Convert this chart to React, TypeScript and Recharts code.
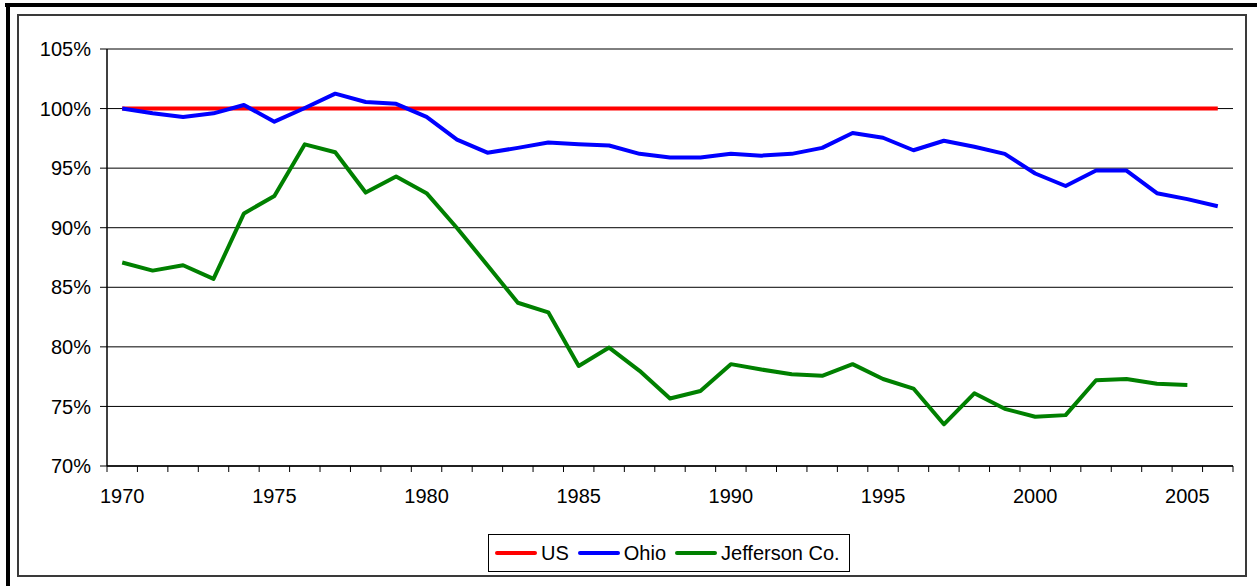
import React from "react";
import { LineChart, Line, XAxis, YAxis, CartesianGrid, Legend } from "recharts";

const years = [
  1970, 1971, 1972, 1973, 1974, 1975, 1976, 1977, 1978, 1979,
  1980, 1981, 1982, 1983, 1984, 1985, 1986, 1987, 1988, 1989,
  1990, 1991, 1992, 1993, 1994, 1995, 1996, 1997, 1998, 1999,
  2000, 2001, 2002, 2003, 2004, 2005, 2006,
];

const usValues = years.map(() => 100);

const ohioValues = [
  100.0, 99.6, 99.3, 99.6, 100.3, 98.9, 100.05, 101.25, 100.55, 100.4,
  99.3, 97.4, 96.3, 96.7, 97.15, 97.0, 96.9, 96.2, 95.9, 95.9,
  96.2, 96.05, 96.2, 96.7, 97.95, 97.55, 96.5, 97.3, 96.8, 96.2,
  94.55, 93.5, 94.8, 94.8, 92.9, 92.4, 91.8,
];

const jeffersonValues: (number | null)[] = [
  87.08, 86.4, 86.85, 85.7, 91.2, 92.67, 97.0, 96.33, 92.95, 94.3,
  92.9, 89.98, 86.85, 83.7, 82.9, 78.4, 79.94, 77.99, 75.67, 76.3,
  78.55, 78.1, 77.7, 77.57, 78.55, 77.3, 76.5, 73.5, 76.1, 74.8,
  74.13, 74.27, 77.2, 77.3, 76.9, 76.8, null,
];

const yTicks = [70, 75, 80, 85, 90, 95, 100, 105];
const xLabelTicks = [1970, 1975, 1980, 1985, 1990, 1995, 2000, 2005];

const seriesNames = ["US", "Ohio", "Jefferson Co."];
const seriesColors = ["#ff0000", "#0000ff", "#008000"];

const data = years.map((year, i) => ({
  year,
  us: usValues[i],
  ohio: ohioValues[i],
  jefferson: jeffersonValues[i],
}));

const boundaryTicks = [...years.map((y) => y - 0.5), years[years.length - 1] + 0.5];
const xDomain = [years[0] - 0.5, years[years.length - 1] + 0.5];

const FONT = "'Liberation Sans', Arial, sans-serif";

const LegendBox = () => (
  <div
    style={{
      border: "1px solid #000",
      boxSizing: "border-box",
      width: 362,
      height: 38,
      display: "flex",
      alignItems: "center",
      paddingLeft: 6,
      background: "#fff",
      fontFamily: FONT,
      fontSize: 20,
      color: "#000",
    }}
  >
    {seriesNames.map((name, i) => (
      <div key={name} style={{ display: "flex", alignItems: "center", marginRight: 9 }}>
        <div
          style={{
            width: 42,
            height: 4,
            borderRadius: 2,
            background: seriesColors[i],
            marginRight: 4,
          }}
        />
        <span>{name}</span>
      </div>
    ))}
  </div>
);

const NoLabel = () => null;

export default function App() {
  return (
    <div
      style={{
        position: "absolute",
        left: 0,
        top: 0,
        width: 1257,
        height: 586,
        background: "#fff",
        overflow: "hidden",
      }}
    >
      <div style={{ position: "absolute", left: 5, top: 3, width: 1252, height: 4, background: "#000" }} />
      <div style={{ position: "absolute", left: 6, top: 3, width: 4, height: 583, background: "#000" }} />
      <div
        style={{
          position: "absolute",
          left: 17,
          top: 14,
          width: 1230,
          height: 563,
          border: "2px solid #3a3a3a",
          boxSizing: "border-box",
        }}
      />
      <div style={{ position: "absolute", left: 0, top: 0 }}>
        <LineChart
          width={1257}
          height={586}
          data={data}
          margin={{ top: 49, right: 24, bottom: 89, left: 47 }}
          style={{ fontFamily: FONT }}
        >
          <CartesianGrid vertical={false} stroke="#000" strokeWidth={1} yAxisId="left" />
          <XAxis
            xAxisId="b"
            dataKey="year"
            type="number"
            domain={xDomain}
            ticks={boundaryTicks}
            tick={<NoLabel />}
            tickSize={6}
            tickLine={{ stroke: "#000" }}
            axisLine={{ stroke: "#000", strokeWidth: 1.5 }}
            height={1}
            interval={0}
            allowDataOverflow
          />
          <XAxis
            xAxisId="lbl"
            dataKey="year"
            type="number"
            domain={xDomain}
            ticks={xLabelTicks}
            tickLine={false}
            axisLine={false}
            tickSize={6}
            tickMargin={16}
            interval={0}
            tick={{ fill: "#000", fontSize: 20, fontFamily: FONT }}
            height={30}
            allowDataOverflow
          />
          <YAxis
            yAxisId="left"
            domain={[70, 105]}
            ticks={yTicks}
            tickFormatter={(v: number) => `${v}%`}
            tickSize={7}
            tickMargin={9}
            tickLine={{ stroke: "#000" }}
            axisLine={{ stroke: "#000", strokeWidth: 1.5 }}
            tick={{ fill: "#000", fontSize: 20, fontFamily: FONT }}
            width={60}
            interval={0}
            allowDataOverflow
          />
          <YAxis
            yAxisId="right"
            orientation="right"
            domain={[70, 105]}
            ticks={yTicks}
            tick={false}
            tickLine={false}
            axisLine={{ stroke: "#000", strokeWidth: 2 }}
            width={0}
            allowDataOverflow
          />
          <Legend
            layout="vertical"
            align="center"
            verticalAlign="middle"
            wrapperStyle={{ left: 488, top: 534, width: 362, height: 38 }}
            content={() => <LegendBox />}
          />
          <Line
            xAxisId="lbl"
            yAxisId="left"
            dataKey="us"
            name={seriesNames[0]}
            stroke={seriesColors[0]}
            strokeWidth={4}
            dot={false}
            isAnimationActive={false}
          />
          <Line
            xAxisId="b"
            yAxisId="left"
            dataKey="ohio"
            name={seriesNames[1]}
            stroke={seriesColors[1]}
            strokeWidth={4}
            strokeLinejoin="round"
            dot={false}
            isAnimationActive={false}
          />
          <Line
            xAxisId="b"
            yAxisId="right"
            dataKey="jefferson"
            name={seriesNames[2]}
            stroke={seriesColors[2]}
            strokeWidth={4}
            strokeLinejoin="round"
            dot={false}
            isAnimationActive={false}
          />
        </LineChart>
      </div>
    </div>
  );
}
